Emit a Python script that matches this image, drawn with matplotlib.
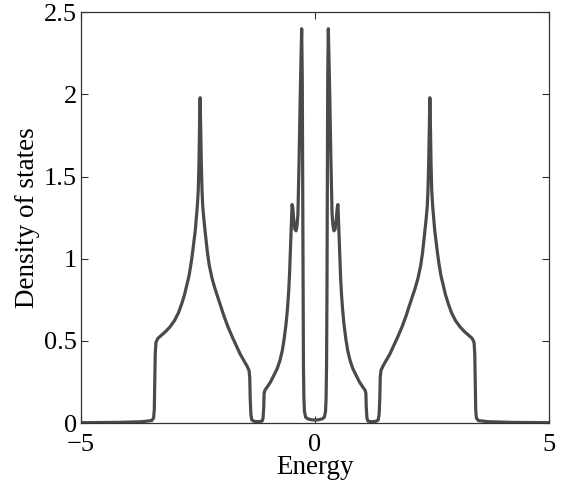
import matplotlib
matplotlib.use("Agg")
import matplotlib.pyplot as plt

# density of states, left half then right half
energy_left = [-5.0, -4.2, -3.7, -3.49, -3.45, -3.435, -3.425, -3.415,
               -3.40, -3.36, -3.28, -3.20, -3.10, -3.00, -2.92, -2.85,
               -2.79, -2.74, -2.69, -2.65, -2.62, -2.59, -2.56, -2.535,
               -2.515, -2.495, -2.48, -2.468, -2.455, -2.443, -2.43, -2.415,
               -2.40, -2.375, -2.35, -2.30, -2.26, -2.20, -2.14, -2.07,
               -2.00, -1.95, -1.86, -1.77, -1.68, -1.60, -1.52, -1.45,
               -1.41, -1.395, -1.385, -1.37, -1.35, -1.30, -1.20, -1.13,
               -1.11, -1.095, -1.088, -1.07, -1.02, -0.95, -0.88, -0.81,
               -0.75, -0.70, -0.66, -0.62, -0.59, -0.565, -0.545, -0.53,
               -0.515, -0.50, -0.49, -0.475, -0.455, -0.43, -0.405, -0.385,
               -0.365, -0.34, -0.315, -0.30, -0.285, -0.272, -0.264, -0.256,
               -0.247, -0.237, -0.225, -0.20, -0.15, -0.08]
dos_left = [0.002, 0.004, 0.008, 0.015, 0.03, 0.08, 0.25, 0.42,
            0.49, 0.515, 0.535, 0.555, 0.585, 0.625, 0.67, 0.725,
            0.78, 0.84, 0.90, 0.97, 1.03, 1.10, 1.17, 1.25,
            1.32, 1.42, 1.58, 1.80, 1.98, 1.80, 1.58, 1.42,
            1.32, 1.24, 1.17, 1.04, 0.96, 0.88, 0.82, 0.76,
            0.70, 0.655, 0.585, 0.525, 0.47, 0.42, 0.38, 0.345,
            0.32, 0.28, 0.15, 0.05, 0.018, 0.01, 0.008, 0.012,
            0.03, 0.10, 0.18, 0.20, 0.22, 0.25, 0.29, 0.33,
            0.38, 0.44, 0.51, 0.60, 0.69, 0.79, 0.90, 1.02,
            1.14, 1.26, 1.33, 1.31, 1.24, 1.18, 1.17, 1.20,
            1.27, 1.60, 2.00, 2.20, 2.40, 2.10, 1.50, 0.80,
            0.35, 0.15, 0.07, 0.035, 0.025, 0.02]

energy_right = [0.0, 0.08, 0.15, 0.20, 0.225, 0.237, 0.247, 0.256,
                0.264, 0.272, 0.285, 0.30, 0.315, 0.34, 0.365, 0.385,
                0.405, 0.43, 0.455, 0.475, 0.49, 0.50, 0.515, 0.53,
                0.545, 0.565, 0.59, 0.62, 0.66, 0.70, 0.75, 0.81,
                0.88, 0.95, 1.02, 1.07, 1.088, 1.095, 1.11, 1.13,
                1.20, 1.30, 1.35, 1.37, 1.385, 1.395, 1.41, 1.45,
                1.52, 1.60, 1.68, 1.77, 1.86, 1.95, 2.00, 2.07,
                2.14, 2.20, 2.26, 2.30, 2.35, 2.375, 2.40, 2.415,
                2.43, 2.443, 2.455, 2.468, 2.48, 2.495, 2.515, 2.535,
                2.56, 2.59, 2.62, 2.65, 2.69, 2.74, 2.79, 2.85,
                2.92, 3.00, 3.10, 3.20, 3.28, 3.36, 3.40, 3.415,
                3.425, 3.435, 3.45, 3.49, 3.7, 4.2, 5.0]
dos_right = [0.018, 0.02, 0.025, 0.035, 0.07, 0.15, 0.35, 0.80,
             1.50, 2.10, 2.40, 2.20, 2.00, 1.60, 1.27, 1.20,
             1.17, 1.18, 1.24, 1.31, 1.33, 1.26, 1.14, 1.02,
             0.90, 0.79, 0.69, 0.60, 0.51, 0.44, 0.38, 0.33,
             0.29, 0.25, 0.22, 0.20, 0.18, 0.10, 0.03, 0.012,
             0.008, 0.01, 0.018, 0.05, 0.15, 0.28, 0.32, 0.345,
             0.38, 0.42, 0.47, 0.525, 0.585, 0.655, 0.70, 0.76,
             0.82, 0.88, 0.96, 1.04, 1.17, 1.24, 1.32, 1.42,
             1.58, 1.80, 1.98, 1.80, 1.58, 1.42, 1.32, 1.25,
             1.17, 1.10, 1.03, 0.97, 0.90, 0.84, 0.78, 0.725,
             0.67, 0.625, 0.585, 0.555, 0.535, 0.515, 0.49, 0.42,
             0.25, 0.08, 0.03, 0.015, 0.008, 0.004, 0.002]

energy = energy_left + energy_right
dos = dos_left + dos_right

xticks = [-5, 0, 5]
yticks = [0, 0.5, 1, 1.5, 2, 2.5]
yticklabels = ["0", "0.5", "1", "1.5", "2", "2.5"]

plt.rcParams["font.family"] = ["Liberation Serif", "DejaVu Serif"]
plt.rcParams["font.size"] = 19

fig = plt.figure(figsize=(5.63, 4.86), dpi=100)
ax = fig.add_axes([0.144, 0.1296, 0.831, 0.845])

ax.plot(energy, dos, color="#4a4a4a", linewidth=2.3,
        solid_joinstyle="round", solid_capstyle="round")

ax.set_xlim(-5, 5)
ax.set_ylim(0, 2.5)
ax.set_xticks(xticks)
ax.set_yticks(yticks)
ax.set_yticklabels(yticklabels)
ax.tick_params(direction="in", length=5, width=0.8, top=True, right=True,
               color="#333333", pad=3)
ax.tick_params(axis="x", pad=8)
for s in ax.spines.values():
    s.set_linewidth(0.9)
    s.set_color("#333333")

ax.set_xlabel("Energy", labelpad=-1, fontsize=19.5)
ax.set_ylabel("Density of states", labelpad=3, fontsize=19.5)

fig.savefig("out.png", dpi=100)
